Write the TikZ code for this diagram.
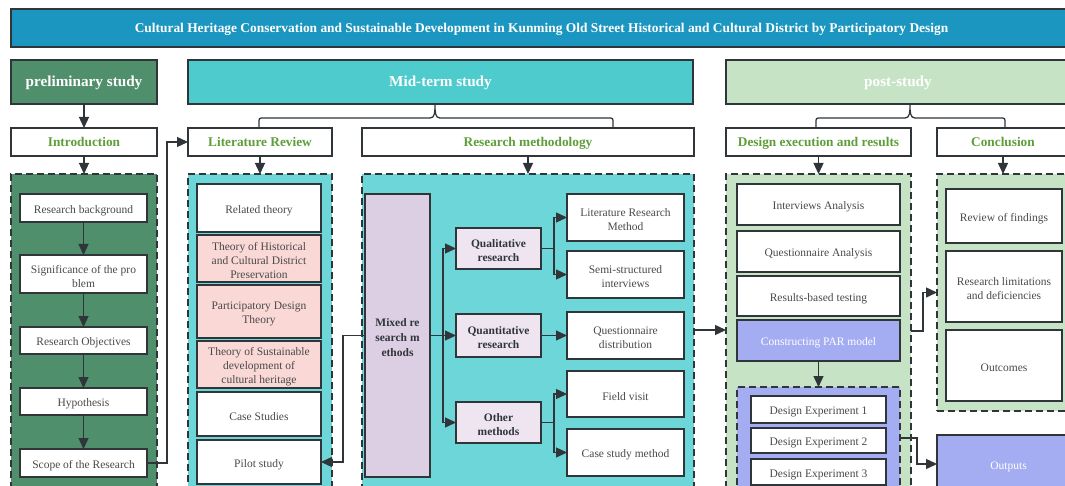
\documentclass[tikz,border=0pt]{standalone}
\usepackage{fontspec}
\setmainfont{Liberation Serif}
\usetikzlibrary{arrows.meta}
\definecolor{lc}{HTML}{30353A}
\definecolor{tg}{HTML}{4A4A4A}
\definecolor{titleblue}{HTML}{1B96C0}
\definecolor{pregreen}{HTML}{4F8F6C}
\definecolor{midteal}{HTML}{4DCBCD}
\definecolor{contteal}{HTML}{6DD6D8}
\definecolor{postgreen}{HTML}{C6E3C5}
\definecolor{pinkc}{HTML}{F9D8D5}
\definecolor{lavd}{HTML}{DCCEE3}
\definecolor{lavl}{HTML}{EEE5F1}
\definecolor{peri}{HTML}{A4ADF2}
\definecolor{gtxt}{HTML}{5E9E3A}
% box drawn by corners; its text is set by a second node, shifted down slightly
\newcommand\mybox[8][-2.5pt]{%
  \node[#2, minimum width={(#6)-(#4)}, minimum height={(#7)-(#5)}] (#3) at ({((#4)+(#6))/2},{((#5)+(#7))/2}) {};
  \node[#2, draw=none, fill=none, yshift=#1] (#3t) at (#3.center) {#8};}
\begin{document}
\begin{tikzpicture}[x=1pt,y=-1pt,
  frame/.style={draw=lc, line width=1.4pt, inner sep=0pt, outer sep=0pt, align=center,
    font=\fontsize{11.5}{14}\selectfont, text=tg},
  wbox/.style={frame, fill=white},
  pbox/.style={frame, fill=pinkc},
  hdr/.style={frame, font=\bfseries\fontsize{15.2}{18}\selectfont, text=white, text height=0.7em, text depth=0.22em},
  subh/.style={frame, fill=white, font=\bfseries\fontsize{13.3}{16}\selectfont, text=gtxt, text height=0.7em, text depth=0.22em},
  bbox/.style={frame, fill=lavl, font=\bfseries\fontsize{11.5}{14}\selectfont, text=lc},
  cont/.style={draw=lc, line width=1.8pt, dash pattern=on 7pt off 4pt, inner sep=0pt, outer sep=0pt},
  conn/.style={draw=lc, line width=1.3pt},
  arr/.style={conn, -{Triangle[length=11pt,width=10pt]}}
]
\useasboundingbox (0,0) rectangle (1065,486);
\clip (0,0) rectangle (1065,486);

% title
\mybox[-2pt]{frame, fill=titleblue, text=white, font=\bfseries\fontsize{13.4}{16}\selectfont, text height=0.7em, text depth=0.22em}{title}{11}{9}{1072}{47}{Cultural Heritage Conservation and Sustainable Development in Kunming Old Street Historical and Cultural District by Participatory Design}

% phase headers
\mybox[-2pt]{hdr, fill=pregreen}{pre}{11}{60}{157}{104}{preliminary study}
\mybox[-2pt]{hdr, fill=midteal}{mid}{188}{60}{693}{104}{Mid-term study}
\mybox[-2pt]{hdr, fill=postgreen}{post}{726}{60}{1070}{104}{post-study}

% sub headers
\mybox[-2pt]{subh}{intro}{11}{128}{157}{156}{Introduction}
\mybox[-2pt]{subh}{lit}{188}{128}{332}{156}{Literature Review}
\mybox[-2pt]{subh}{rm}{362}{128}{694}{156}{Research methodology}
\mybox[-2pt]{subh}{de}{726}{128}{911}{156}{Design execution and results}
\mybox[-2pt]{subh}{con}{937}{128}{1069}{156}{Conclusion}

% braces
\coordinate (mtip) at (435,104);
\coordinate (ptip) at (910,104);
\draw[conn] (259,128) -- (259,123) .. controls (259,118) .. (264,118) -- (430,118)
  .. controls (435,118) and (435,112) .. (mtip)
  .. controls (435,112) and (435,118) .. (440,118) -- (608,118)
  .. controls (613,118) .. (613,123) -- (613,128);
\draw[conn] (816,128) -- (816,123) .. controls (816,118) .. (821,118) -- (905,118)
  .. controls (910,118) and (910,112) .. (ptip)
  .. controls (910,112) and (910,118) .. (915,118) -- (1000,118)
  .. controls (1005,118) .. (1005,123) -- (1005,128);

% containers
\mybox{cont, fill=pregreen}{precont}{11}{174}{157}{520}{}
\mybox{cont, fill=contteal}{litcont}{188}{174}{332}{520}{}
\mybox{cont, fill=contteal}{rmcont}{362}{174}{694}{520}{}
\mybox{cont, fill=postgreen}{decont}{726}{174}{911}{520}{}
\mybox{cont, fill=postgreen}{concont}{937}{174}{1069}{411}{}

% preliminary
\mybox{wbox}{rb}{20}{194}{147}{222}{Research background}
\mybox{wbox}{sig}{20}{255}{147}{293}{Significance of the pro\\blem}
\mybox{wbox}{ro}{20}{327}{147}{354}{Research Objectives}
\mybox{wbox}{hyp}{20}{388}{147}{415}{Hypothesis}
\mybox{wbox}{scope}{20}{449}{147}{477}{Scope of the Research}

% literature review
\mybox{wbox}{rt}{197}{184}{321}{232}{Related theory}
\mybox{pbox}{th1}{197}{235}{321}{282}{Theory of Historical\\and Cultural District\\Preservation}
\mybox{pbox}{th2}{197}{285}{321}{338}{Participatory Design\\Theory}
\mybox{pbox}{th3}{197}{341}{321}{388}{Theory of Sustainable\\development of\\cultural heritage}
\mybox{wbox}{cs}{197}{392}{321}{436}{Case Studies}
\mybox{wbox}{pilot}{197}{440}{321}{484}{Pilot study}

% research methodology
\mybox{frame, fill=lavd, font=\bfseries\fontsize{11.5}{15}\selectfont, text=lc}{mix}{365}{194}{430}{477}{Mixed re\\search m\\ethods}
\mybox{bbox}{qual}{456}{228}{541}{269}{Qualitative\\research}
\mybox{bbox}{quant}{456}{314}{541}{357}{Quantitative\\research}
\mybox{bbox}{oth}{456}{402}{541}{443}{Other\\methods}
\mybox{wbox}{lrm}{567}{194}{684}{241}{Literature Research\\Method}
\mybox{wbox}{semi}{567}{251}{684}{298}{Semi-structured\\interviews}
\mybox{wbox}{qd}{567}{312}{684}{359}{Questionnaire\\distribution}
\mybox{wbox}{fv}{567}{371}{684}{417}{Field visit}
\mybox{wbox}{csm}{567}{429}{684}{476}{Case study method}

% design execution
\mybox{wbox}{ia}{737}{184}{900}{225}{Interviews Analysis}
\mybox{wbox}{qa}{737}{231}{900}{272}{Questionnaire Analysis}
\mybox{wbox}{rbt}{737}{276}{900}{316}{Results-based testing}
\mybox{frame, fill=peri, text=white}{par}{737}{320}{900}{361}{Constructing PAR model}
\mybox{cont, fill=peri}{parcont}{737}{387}{900}{520}{}
\mybox{wbox}{de1}{751}{396}{886}{423}{Design Experiment 1}
\mybox{wbox}{de2}{751}{428}{886}{453}{Design Experiment 2}
\mybox{wbox}{de3}{751}{459}{886}{485}{Design Experiment 3}

% conclusion
\mybox{wbox}{rof}{946}{189}{1062}{243}{Review of findings}
\mybox{wbox}{rld}{946}{251}{1062}{322}{Research limitations\\and deficiencies}
\mybox{wbox}{outc}{946}{330}{1062}{401}{Outcomes}
\mybox{frame, fill=peri, text=white}{outp}{937}{435}{1080}{493}{Outputs}

% connectors
\draw[arr] (pre.south) -- (intro.north);
\draw[arr] (intro.south) -- (precont.north);
\draw[arr] (lit.south) -- (litcont.north);
\draw[arr] (rm.south) -- (rmcont.north);
\draw[arr] (de.south) -- (decont.north);
\draw[arr] (con.south) -- (concont.north);

\draw[arr] (rb.south) -- (sig.north);
\draw[arr] (sig.south) -- (ro.north);
\draw[arr] (ro.south) -- (hyp.north);
\draw[arr] (hyp.south) -- (scope.north);
\draw[arr] (scope.east) -- ++(20,0) |- (lit.west);

\draw[arr] (mix.west) -- ++(-22,0) |- (pilot.east);
\draw[arr] (mix.east) -- ++(13,0) |- (qual.west);
\draw[arr] (mix.east) -- (quant.west);
\draw[arr] (mix.east) -- ++(13,0) |- (oth.west);
\draw[arr] (qual.east) -- ++(13,0) |- (lrm.west);
\draw[arr] (qual.east) -- ++(13,0) |- (semi.west);
\draw[arr] (quant.east) -- (qd.west);
\draw[arr] (oth.east) -- ++(13,0) |- (fv.west);
\draw[arr] (oth.east) -- ++(13,0) |- (csm.west);

\draw[arr] (rmcont.east |- 0,330) -- (decont.west |- 0,330);
\draw[arr] (decont.east |- 0,331) -- (923,331) |- (concont.west);
\draw[arr] (par.south) -- (parcont.north);
\draw[arr] (parcont.east |- 0,438) -- (917,438) |- (outp.west);
\end{tikzpicture}
\end{document}
